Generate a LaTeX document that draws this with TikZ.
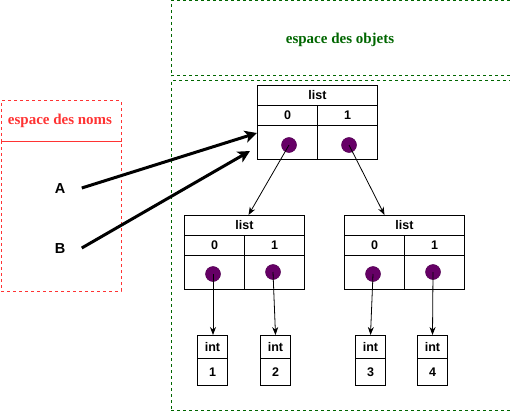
\documentclass[tikz,border=0pt]{standalone}
\usepackage{fontspec}
\setmainfont{Liberation Sans}
\newfontfamily\serifbold{Liberation Serif}
\usetikzlibrary{arrows.meta,calc}
\definecolor{objgreen}{HTML}{006600}
\definecolor{nomred}{HTML}{FF3333}
\definecolor{dotpurple}{HTML}{660066}
\begin{document}
\begin{tikzpicture}[x=1pt,y=-1pt,
  cell/.style={draw, line width=1pt, minimum width=60pt, minimum height=20pt, inner sep=0pt,
    font=\fontsize{12.5}{13}\selectfont\bfseries, anchor=north west},
  content/.style={cell, minimum height=34pt},
  intcell/.style={cell, minimum width=30pt, minimum height=23pt},
  intval/.style={cell, minimum width=30pt, minimum height=27pt},
  hdr/.style={cell, minimum width=120pt},
  dot/.style={circle, fill=dotpurple, draw=dotpurple!80!black, line width=0.5pt, minimum size=15pt, inner sep=0pt},
  ptr/.style={line width=0.8pt, -{Stealth[length=8pt,width=6pt]}},
  bigptr/.style={line width=3pt, -{Stealth[length=12pt,width=12pt,inset=3pt]}},
  objzone/.style={draw=objgreen, line width=1pt, dash pattern=on 3pt off 3pt},
  nomzone/.style={draw=nomred, line width=1pt, dash pattern=on 3pt off 3pt},
  zonetitle/.style={font=\serifbold\fontsize{15}{16}\selectfont\bfseries},
  varname/.style={font=\fontsize{14.5}{15}\selectfont\bfseries}
]
\useasboundingbox (0,0) rectangle (510,414);
% zones
\node[objzone, anchor=north west, minimum width=339pt, minimum height=75pt, inner sep=0pt] (objtop) at (170.5,0.5) {};
\node[zonetitle, text=objgreen] (objtitle) at (340,40) {espace des objets};
\node[objzone, anchor=north west, minimum width=339pt, minimum height=329pt, inner sep=0pt] (objbox) at (170.5,80.5) {};
\node[nomzone, anchor=north west, minimum width=120pt, minimum height=40pt, inner sep=0pt] (nomtop) at (0.5,100.5) {};
\node[nomzone, anchor=north west, minimum width=120pt, minimum height=150pt, inner sep=0pt] (nombox) at (0.5,140.5) {};
\node[zonetitle, text=nomred] (nomtitle) at (60,121) {espace des noms};
% variable names
\node[varname] (A) at (60,189) {A};
\node[varname] (B) at (60,249) {B};
% top list
\node[hdr] (T) at (257,85) {list};
\node[cell] (T0) at (257,105) {0};
\node[cell] (T1) at (317,105) {1};
\node[content] (Tc0) at (257,125) {};
\node[content] (Tc1) at (317,125) {};
\node[dot] (Td0) at (289,145) {};
\node[dot] (Td1) at (349,145) {};
% left list
\node[hdr] (L) at (184,215) {list};
\node[cell] (L0) at (184,235) {0};
\node[cell] (L1) at (244,235) {1};
\node[content] (Lc0) at (184,255) {};
\node[content] (Lc1) at (244,255) {};
\node[dot] (Ld0) at (213,274) {};
\node[dot] (Ld1) at (273,272) {};
% right list
\node[hdr] (R) at (344,215) {list};
\node[cell] (R0) at (344,235) {0};
\node[cell] (R1) at (404,235) {1};
\node[content] (Rc0) at (344,255) {};
\node[content] (Rc1) at (404,255) {};
\node[dot] (Rd0) at (373,274) {};
\node[dot] (Rd1) at (433,272) {};
% ints
\node[intcell] (I1) at (197,335) {int};
\node[intval] (V1) at (197,358) {1};
\node[intcell] (I2) at (260,335) {int};
\node[intval] (V2) at (260,358) {2};
\node[intcell] (I3) at (355,335) {int};
\node[intval] (V3) at (355,358) {3};
\node[intcell] (I4) at (417,335) {int};
\node[intval] (V4) at (417,358) {4};
% connectors
\coordinate (Aend) at (257,133);
\coordinate (Bend) at (250,151);
\draw[bigptr] ([xshift=13pt,yshift=1pt]A.east) -- (Aend);
\draw[bigptr] ([xshift=13pt,yshift=1pt]B.east) -- (Bend);
\draw[ptr] (Td0.center) -- ([xshift=4pt]L.north);
\draw[ptr] (Td1.center) -- ([xshift=-20pt]R.north);
\draw[ptr] (Ld0.center) -- (Ld0.center |- I1.north);
\draw[ptr] (Ld1.center) -- (I2.north);
\draw[ptr] (Rd0.center) -- (I3.north);
\draw[ptr] (Rd1.center) -- (I4.north);
\end{tikzpicture}
\end{document}
